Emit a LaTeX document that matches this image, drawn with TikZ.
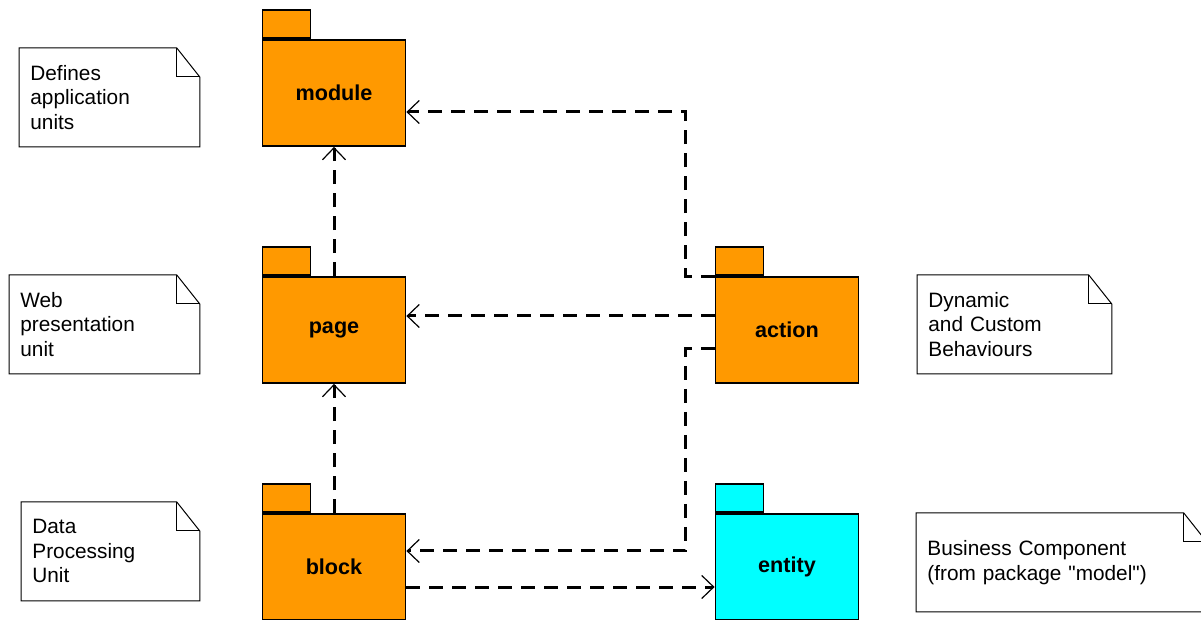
\documentclass[tikz,border=0pt]{standalone}
\usepackage{fontspec}
\setmainfont{Liberation Sans}
\usepackage{xcolor}
\usetikzlibrary{arrows.meta,positioning}
\definecolor{pkgorange}{RGB}{255,153,0}
\definecolor{pkgcyan}{RGB}{0,255,255}

\begin{document}
\begin{tikzpicture}[x=0.5pt,y=-0.5pt]%
  \tikzstyle{pkg}=[rectangle,draw,line width=0.9pt,minimum width=71.5pt,minimum height=53pt,fill=pkgorange,font=\fontsize{10.8}{12}\selectfont\bfseries]
  \tikzstyle{tab}=[rectangle,draw,line width=0.9pt,minimum width=24pt,minimum height=14pt,inner sep=0,anchor=south west,fill=pkgorange]
  \tikzset{note/.style={rectangle,anchor=north west,align=left,inner xsep=5.5pt,minimum height=49pt,text width=#1,font=\fontsize{10.4}{12.25}\selectfont}}
  \tikzstyle{dep}=[line width=1.5pt,dash pattern=on 7pt off 4.5pt,-{Straight Barb[length=6pt,width=11.5pt,line width=0.6pt]}]
  \useasboundingbox (0,0) rectangle (1201,620);
  % packages
  \node[pkg] (module) at (334,93) {module};
  \node[tab] (moduletab) at (module.north west) {};
  \node[pkg] (page) at (334,330) {page};
  \node[tab] (pagetab) at (page.north west) {};
  \node[pkg] (block) at (334,567) {block};
  \node[tab] (blocktab) at (block.north west) {};
  \node[pkg] (action) at (787,330) {action};
  \node[tab] (actiontab) at (action.north west) {};
  \node[pkg,fill=pkgcyan] (entity) at (787,567) {entity};
  \node[tab,fill=pkgcyan] (entitytab) at (entity.north west) {};
  % notes
  \node[note=79pt] (defn) at (19,48) {Defines\\application\\units};
  \node[note=84pt] (web) at (9,275) {Web\\presentation\\unit};
  \node[note=78pt] (data) at (21,502) {Data\\Processing\\Unit};
  \node[note=86pt] (dyn) at (917,275) {Dynamic\\and Custom\\Behaviours};
  \node[note=134pt] (biz) at (916,513) {Business Component\\(from package \textquotedbl model\textquotedbl)};
  \foreach \n in {defn,web,data,dyn,biz}{
    \draw[line width=0.5pt] (\n.north west) -- ([xshift=-11.5pt]\n.north east)
      -- ([yshift=-14.5pt]\n.north east) -- (\n.south east) -- (\n.south west) -- cycle;
    \draw[line width=0.5pt] ([xshift=-11.5pt]\n.north east) |- ([yshift=-14.5pt]\n.north east);
  }
  % dependencies
  \draw[dep] (page) -- (module);
  \draw[dep] (block) -- (page);
  \draw[dep] ([yshift=7pt]action.west) -- ([yshift=7pt]page.east);
  \draw[dep] (action.north west) -- ++(-14.5pt,0) |- ([yshift=-9.5pt]module.east);
  \draw[dep] ([yshift=-9.5pt]action.west) -- ++(-14.5pt,0) |- ([yshift=8pt]block.east);
  \draw[dep] ([yshift=-10pt]block.east) -- ([yshift=-10pt]entity.west);
\end{tikzpicture}
\end{document}
